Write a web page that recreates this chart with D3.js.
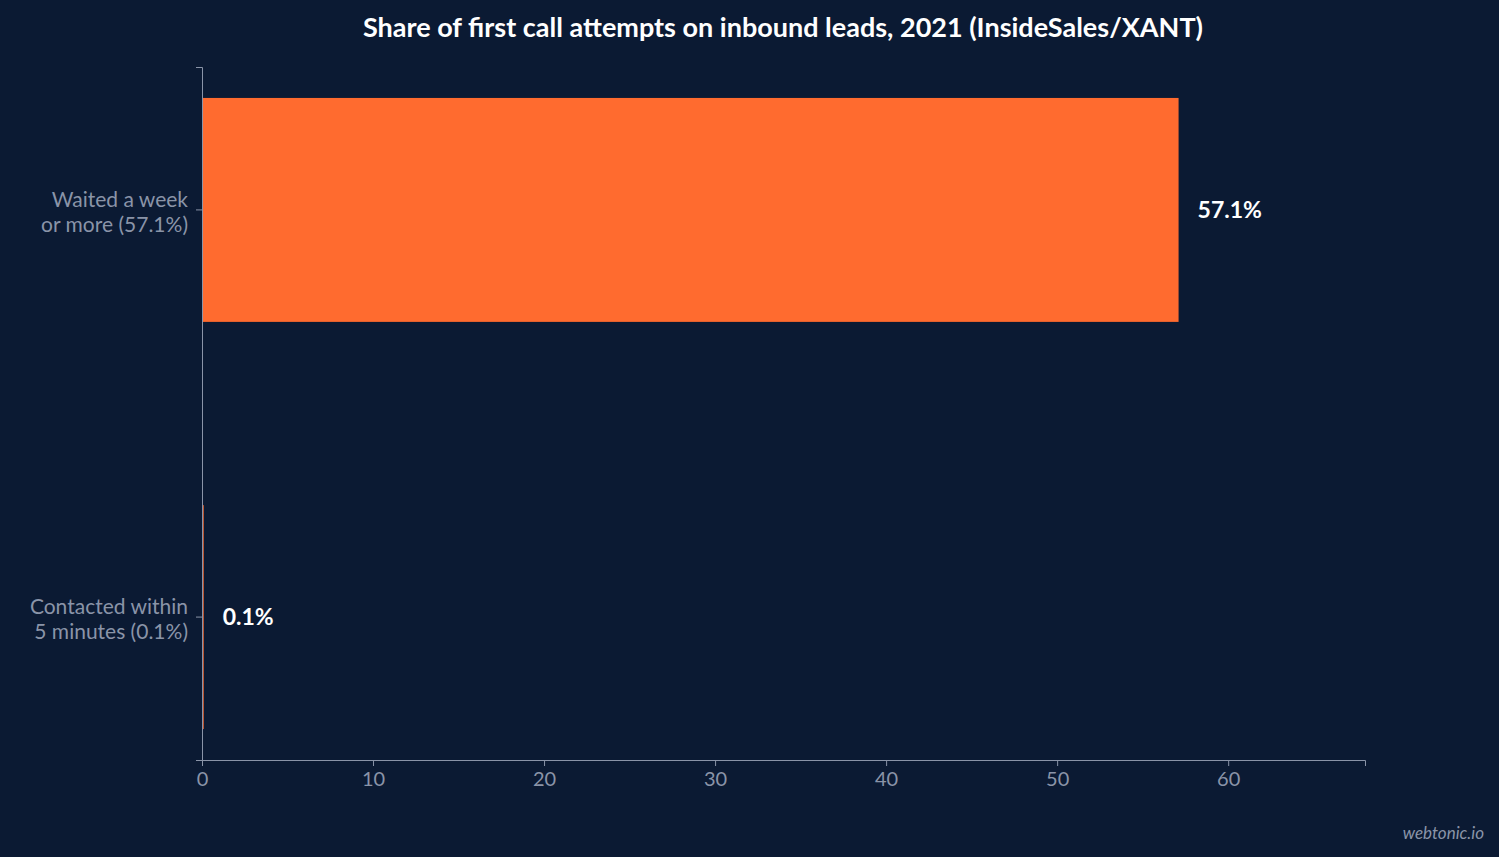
<!DOCTYPE html>
<html><head><meta charset="utf-8">
<script src="https://cdn.jsdelivr.net/npm/d3@7"></script>
<style>
body{margin:0;background:#0b1a33;}
svg{display:block;font-family:Lato,"Noto Sans",sans-serif;}
</style></head>
<body><div id="chart"></div>
<script>
// data
var categories = ["Waited a week\nor more (57.1%)", "Contacted within\n5 minutes (0.1%)"];
var values = [57.1, 0.1];
var valueLabels = ["57.1%", "0.1%"];
var xTicks = [0, 10, 20, 30, 40, 50, 60];

var svgWidth = 1499, svgHeight = 857;
var margin = {top: 67, right: 134, bottom: 97, left: 202};
var chartWidth = svgWidth - margin.left - margin.right;
var chartHeight = svgHeight - margin.top - margin.bottom;

var svg = d3.select("#chart").append("svg")
  .attr("width", svgWidth).attr("height", svgHeight);
svg.append("rect").attr("width", svgWidth).attr("height", svgHeight).attr("fill", "#0b1a33");

svg.append("text").attr("x", 783).attr("y", 37).attr("text-anchor", "middle")
  .attr("fill", "#ffffff").attr("font-size", 27).attr("font-weight", "bold")
  .text("Share of first call attempts on inbound leads, 2021 (InsideSales/XANT)");

var g = svg.append("g").attr("transform", `translate(${margin.left},${margin.top})`);

var x = d3.scaleLinear().domain([0, 68]).range([0, chartWidth]);
var y = d3.scaleBand().domain(categories).range([0, chartHeight])
  .paddingInner(0.45).paddingOuter(0.076);

g.selectAll(".bar").data(values).enter().append("rect")
  .attr("x", 0)
  .attr("y", (d, i) => y(categories[i]))
  .attr("width", d => Math.max(x(d), 1.5))
  .attr("height", y.bandwidth())
  .attr("fill", "#ff6b2f");

g.selectAll(".val").data(values).enter().append("text")
  .attr("x", d => x(d) + 19)
  .attr("y", (d, i) => y(categories[i]) + y.bandwidth() / 2 + 8)
  .attr("fill", "#ffffff").attr("font-size", 23).attr("font-weight", "bold")
  .text((d, i) => valueLabels[i]);

var xAxis = g.append("g").attr("transform", `translate(0,${chartHeight})`)
  .call(d3.axisBottom(x).tickValues(xTicks).tickSize(6).tickPadding(6));
var yAxis = g.append("g").call(d3.axisLeft(y).tickSize(6).tickFormat(""));

[xAxis, yAxis].forEach(a => {
  a.selectAll("path, line").attr("stroke", "#8a94a8");
  a.selectAll("text").attr("fill", "#8a94a8").attr("font-size", 20).attr("font-family", "Lato");
});

// two-line category labels
categories.forEach(function(c) {
  var lines = c.split("\n");
  var t = g.append("text").attr("text-anchor", "end").attr("fill", "#8a94a8").attr("font-size", 21);
  lines.forEach(function(l, j) {
    t.append("tspan").attr("x", -14)
      .attr("y", y(c) + y.bandwidth() / 2 - 3 + j * 25).text(l);
  });
});

svg.append("text").attr("x", 1484).attr("y", 839).attr("text-anchor", "end")
  .attr("fill", "#8a94a8").attr("font-size", 17).attr("font-style", "italic")
  .text("webtonic.io");
</script></body></html>
